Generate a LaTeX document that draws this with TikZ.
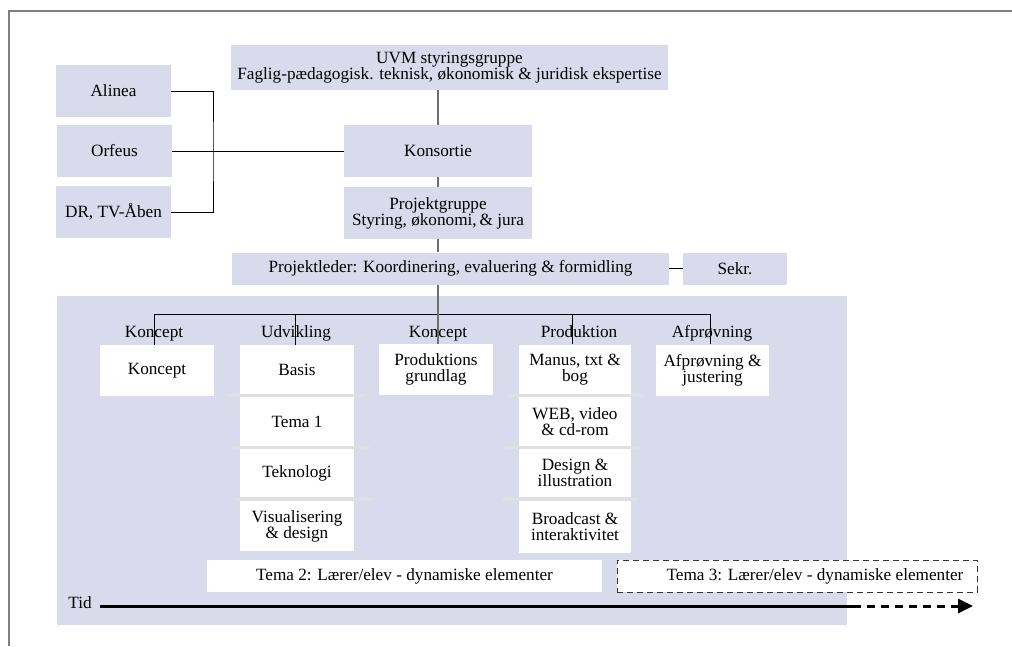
\documentclass[tikz,border=0pt]{standalone}
\usepackage{fontspec}
\setmainfont{Liberation Serif}
\usetikzlibrary{arrows.meta}
\definecolor{lav}{RGB}{217,218,236}
\definecolor{sepgray}{RGB}{224,224,224}
\definecolor{trunkgray}{RGB}{110,110,110}
\definecolor{framegray}{RGB}{128,128,128}
\begin{document}
\begin{tikzpicture}[x=1pt,y=-1pt,
  every node/.style={font=\fontsize{17.2}{15.8}\selectfont, inner sep=0pt, align=center},
  lbox/.style={fill=lav, minimum width=#1},
  wbox/.style={fill=white, minimum width=#1},
  sep/.style={draw=sepgray, line width=3pt},
  conn/.style={draw=black, line width=1pt},
  trunk/.style={draw=trunkgray, line width=1.4pt},
  lbl/.style={anchor=base}
]
\useasboundingbox (0,0) rectangle (1012,646);
% frame
\draw[framegray, line width=1.5pt] (9,646) -- (9,11) -- (1012,11);
% top boxes
\node[lbox=437pt, minimum height=45pt] (uvm) at (449.5,67.5) {UVM styringsgruppe\\Faglig-pædagogisk. teknisk, økonomisk \& juridisk ekspertise};
\node[lbox=115pt, minimum height=52pt] (alinea) at (113.5,91) {Alinea};
\node[lbox=115pt, minimum height=52pt] (orfeus) at (114.5,151) {Orfeus};
\node[lbox=115pt, minimum height=52pt] (dr) at (113.5,212) {DR, TV-Åben};
\node[lbox=188pt, minimum height=52pt] (kons) at (438,151) {Konsortie};
\node[lbox=188pt, minimum height=52pt] (pg) at (438,213) {Projektgruppe\\Styring, økonomi,\,\& jura};
\node[lbox=437pt, minimum height=32pt] (pl) at (450.5,268.5) {Projektleder: Koordinering, evaluering \& formidling};
\node[lbox=104pt, minimum height=32pt] (sekr) at (735,268.5) {Sekr.};
% connectors top
\coordinate (jn) at (213,151);
\draw[conn] (alinea.east) -| (jn) |- (dr.east);
\draw[conn] (orfeus.east) -- (kons.west);
\draw[trunk] (kons.north) -- (kons.north |- uvm.south);
\draw[trunk] (pg.north) -- (kons.south);
\draw[trunk] (pl.north -| pg.south) -- (pg.south);
\draw[conn] (pl.east) -- (sekr.west);
% region
\fill[lav] (57,296) rectangle (847,625);
% column labels
\node[lbl] (l1) at (154,337) {Koncept};
\node[lbl] (l2) at (296,337) {Udvikling};
\node[lbl] (l3) at (438,337) {Koncept};
\node[lbl] (l4) at (579,337) {Produktion};
\node[lbl] (l5) at (712,337) {Afprøvning};
% white boxes
\node[wbox=114pt, minimum height=51pt] (k1) at (157,370.5) {Koncept};
\node[wbox=114pt, minimum height=50pt] (basis) at (297,370) {Basis};
\node[wbox=114pt, minimum height=51pt] (pgr) at (436,369.5) {Produktions\\grundlag};
\node[wbox=112pt, minimum height=51pt] (manus) at (575,370) {Manus, txt \&\\bog};
\node[wbox=113pt, minimum height=51pt] (afp) at (712.5,370) {Afprøvning \&\\justering};
\node[wbox=114pt, minimum height=49pt] (tema1) at (297,421.5) {Tema 1};
\node[wbox=114pt, minimum height=48pt] (tek) at (297,473) {Teknologi};
\node[wbox=114pt, minimum height=50pt] (vis) at (297,526) {Visualisering\\\& design};
\node[wbox=112pt, minimum height=49pt] (web) at (575,421.5) {WEB, video\\\& cd-rom};
\node[wbox=112pt, minimum height=48pt] (des) at (575,473) {Design \&\\illustration};
\node[wbox=112pt, minimum height=52pt] (bro) at (575,527) {Broadcast \&\\interaktivitet};
% separators
\draw[sep] (227,395.5) -- (365,395.5);
\draw[sep] (232,447.5) -- (370,447.5);
\draw[sep] (235,499) -- (373,499);
\draw[sep] (508,395.5) -- (643,395.5);
\draw[sep] (504,447.5) -- (640,447.5);
\draw[sep] (502,499) -- (638,499);
% bus
\coordinate (b1) at (154,314);
\coordinate (b2) at (295,314);
\coordinate (b3) at (438,314);
\coordinate (b4) at (572,314);
\coordinate (b5) at (710,314);
\draw[conn] (b1) -- (b5);
\draw[conn] (b1) -- (b1 |- k1.north);
\draw[conn] (b2) -- (b2 |- basis.north);
\draw[conn] (b4) -- (b4 |- manus.north);
\draw[conn] (b5) -- (b5 |- afp.north);
\draw[trunk] (pl.south -| pg.south) -- (b3 |- pgr.north);
% tema boxes
\node[wbox=395pt, minimum height=32pt] (tema2) at (404.5,576) {Tema 2: Lærer/elev - dynamiske elementer};
\node[fill=white, draw=black!80, line width=0.9pt, dash pattern=on 6pt off 4pt, minimum width=360pt, minimum height=32pt] (tema3) at (797,576) {\hspace*{36pt}Tema 3: Lærer/elev - dynamiske elementer};
% time axis
\node (tid) at (80,603) {Tid};
\coordinate (tsol) at (853,606);
\coordinate (tend) at (973,606);
\draw[line width=3pt] (100,606) -- (tsol);
\draw[line width=3pt, dash pattern=on 8pt off 6pt, -{Triangle[length=15pt,width=14pt]}] (tsol) -- (tend);
\end{tikzpicture}
\end{document}
